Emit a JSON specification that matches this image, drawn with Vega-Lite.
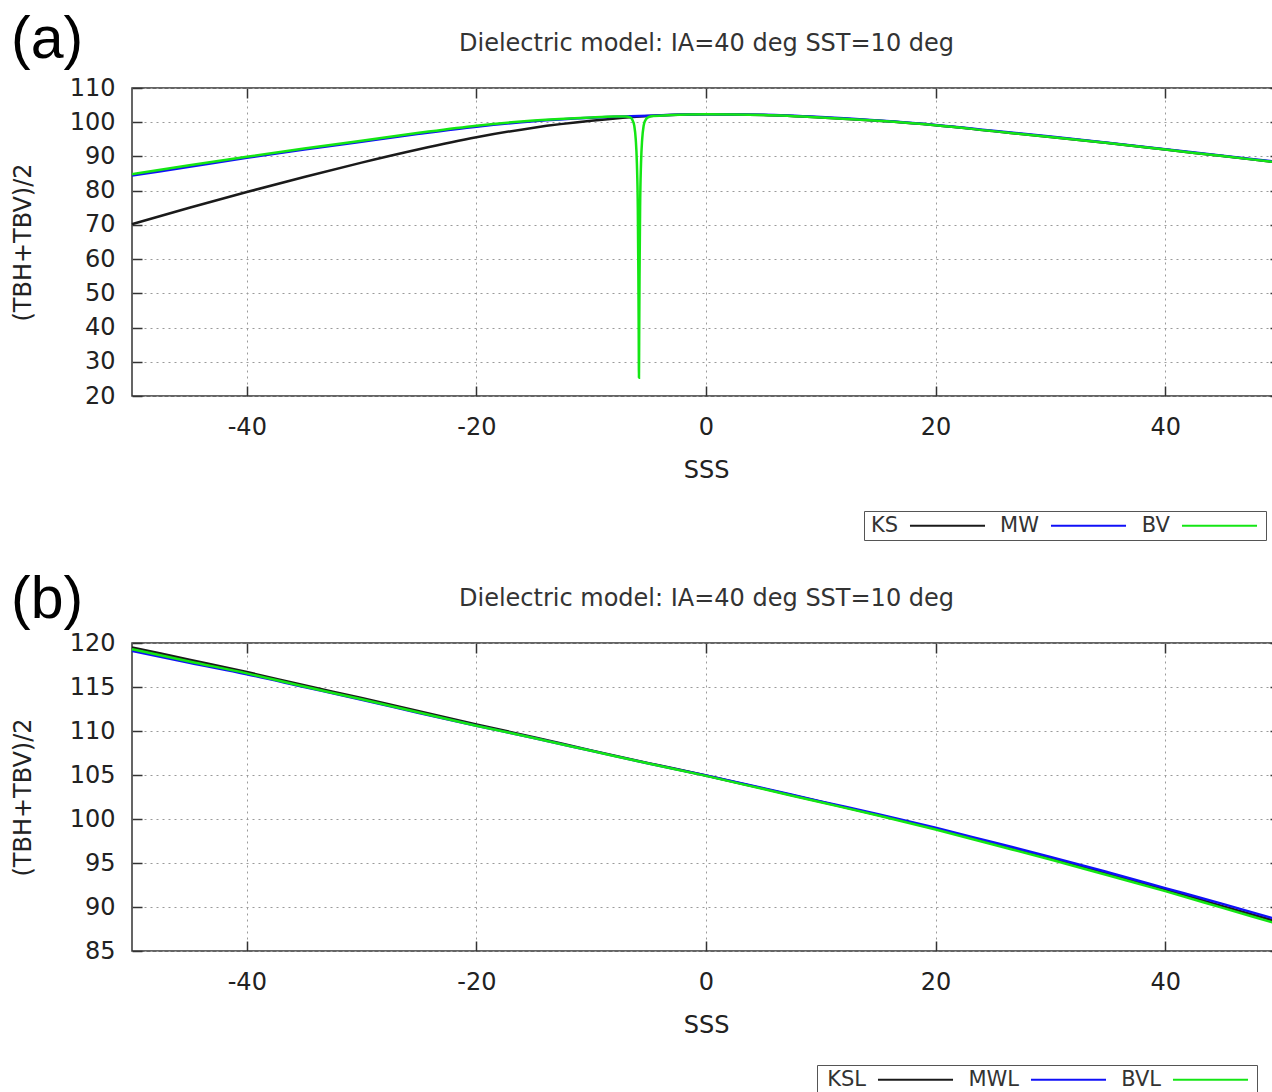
{
"$schema": "https://vega.github.io/schema/vega-lite/v6.json",
"background": "white",
"padding": {"left": 10, "top": 10, "right": 0, "bottom": 0},
"spacing": 247,
"bounds": "flush",
"datasets": {
"a": [
{"x":-50,"y":70.2,"m":"KS"},{"x":-45,"y":75.0,"m":"KS"},{"x":-40,"y":79.6,"m":"KS"},{"x":-35,"y":84.0,"m":"KS"},{"x":-30,"y":88.2,"m":"KS"},{"x":-25,"y":92.1,"m":"KS"},{"x":-20,"y":95.6,"m":"KS"},{"x":-15,"y":98.4,"m":"KS"},{"x":-10,"y":100.4,"m":"KS"},{"x":-5,"y":101.8,"m":"KS"},{"x":0,"y":102.3,"m":"KS"},{"x":5,"y":102.1,"m":"KS"},{"x":10,"y":101.4,"m":"KS"},{"x":15,"y":100.4,"m":"KS"},{"x":20,"y":99.1,"m":"KS"},{"x":25,"y":97.4,"m":"KS"},{"x":30,"y":95.7,"m":"KS"},{"x":35,"y":93.9,"m":"KS"},{"x":40,"y":92.0,"m":"KS"},{"x":45,"y":90.1,"m":"KS"},{"x":50,"y":88.2,"m":"KS"},
{"x":-50,"y":84.4,"m":"MW"},{"x":-45,"y":87.0,"m":"MW"},{"x":-40,"y":89.6,"m":"MW"},{"x":-35,"y":92.0,"m":"MW"},{"x":-30,"y":94.3,"m":"MW"},{"x":-25,"y":96.6,"m":"MW"},{"x":-20,"y":98.7,"m":"MW"},{"x":-15,"y":100.3,"m":"MW"},{"x":-10,"y":101.3,"m":"MW"},{"x":-5,"y":101.9,"m":"MW"},{"x":0,"y":102.3,"m":"MW"},{"x":5,"y":102.15,"m":"MW"},{"x":10,"y":101.5,"m":"MW"},{"x":15,"y":100.5,"m":"MW"},{"x":20,"y":99.2,"m":"MW"},{"x":25,"y":97.5,"m":"MW"},{"x":30,"y":95.8,"m":"MW"},{"x":35,"y":94.0,"m":"MW"},{"x":40,"y":92.1,"m":"MW"},{"x":45,"y":90.2,"m":"MW"},{"x":50,"y":88.3,"m":"MW"},
{"x":-50,"y":84.8,"m":"BV"},{"x":-45,"y":87.4,"m":"BV"},{"x":-40,"y":89.9,"m":"BV"},{"x":-35,"y":92.3,"m":"BV"},{"x":-30,"y":94.6,"m":"BV"},{"x":-25,"y":96.9,"m":"BV"},{"x":-20,"y":99.0,"m":"BV"},{"x":-15,"y":100.5,"m":"BV"},{"x":-10,"y":101.4,"m":"BV"},{"x":-8,"y":101.65,"m":"BV"},{"x":-7,"y":101.7,"m":"BV"},{"x":-6.6,"y":101.4,"m":"BV"},{"x":-6.4,"y":100.6,"m":"BV"},{"x":-6.25,"y":99.0,"m":"BV"},{"x":-6.12,"y":95.0,"m":"BV"},{"x":-6.02,"y":88.0,"m":"BV"},{"x":-5.94,"y":75.0,"m":"BV"},{"x":-5.89,"y":55.0,"m":"BV"},{"x":-5.86,"y":38.0,"m":"BV"},{"x":-5.84,"y":25.3,"m":"BV"},{"x":-5.82,"y":38.0,"m":"BV"},{"x":-5.79,"y":55.0,"m":"BV"},{"x":-5.74,"y":75.0,"m":"BV"},{"x":-5.66,"y":88.0,"m":"BV"},{"x":-5.56,"y":95.0,"m":"BV"},{"x":-5.43,"y":99.0,"m":"BV"},{"x":-5.28,"y":100.6,"m":"BV"},{"x":-5.05,"y":101.4,"m":"BV"},{"x":-4.6,"y":101.8,"m":"BV"},{"x":-3,"y":102.1,"m":"BV"},{"x":0,"y":102.3,"m":"BV"},{"x":5,"y":102.1,"m":"BV"},{"x":10,"y":101.4,"m":"BV"},{"x":15,"y":100.4,"m":"BV"},{"x":20,"y":99.1,"m":"BV"},{"x":25,"y":97.4,"m":"BV"},{"x":30,"y":95.7,"m":"BV"},{"x":35,"y":93.9,"m":"BV"},{"x":40,"y":92.0,"m":"BV"},{"x":45,"y":90.1,"m":"BV"},{"x":50,"y":88.2,"m":"BV"}
],
"b": [
{"x":-50,"y":119.5,"m":"KSL"},{"x":-45,"y":118.1,"m":"KSL"},{"x":-40,"y":116.7,"m":"KSL"},{"x":-35,"y":115.2,"m":"KSL"},{"x":-30,"y":113.75,"m":"KSL"},{"x":-25,"y":112.25,"m":"KSL"},{"x":-20,"y":110.75,"m":"KSL"},{"x":-15,"y":109.3,"m":"KSL"},{"x":-10,"y":107.8,"m":"KSL"},{"x":-5,"y":106.35,"m":"KSL"},{"x":0,"y":104.95,"m":"KSL"},{"x":5,"y":103.45,"m":"KSL"},{"x":10,"y":101.95,"m":"KSL"},{"x":15,"y":100.45,"m":"KSL"},{"x":20,"y":98.9,"m":"KSL"},{"x":25,"y":97.2,"m":"KSL"},{"x":30,"y":95.55,"m":"KSL"},{"x":35,"y":93.8,"m":"KSL"},{"x":40,"y":92.0,"m":"KSL"},{"x":45,"y":90.1,"m":"KSL"},{"x":50,"y":88.25,"m":"KSL"},
{"x":-50,"y":119.1,"m":"MWL"},{"x":-45,"y":117.75,"m":"MWL"},{"x":-40,"y":116.45,"m":"MWL"},{"x":-35,"y":115.0,"m":"MWL"},{"x":-30,"y":113.55,"m":"MWL"},{"x":-25,"y":112.05,"m":"MWL"},{"x":-20,"y":110.6,"m":"MWL"},{"x":-15,"y":109.2,"m":"MWL"},{"x":-10,"y":107.75,"m":"MWL"},{"x":-5,"y":106.3,"m":"MWL"},{"x":0,"y":104.95,"m":"MWL"},{"x":5,"y":103.5,"m":"MWL"},{"x":10,"y":102.0,"m":"MWL"},{"x":15,"y":100.55,"m":"MWL"},{"x":20,"y":99.0,"m":"MWL"},{"x":25,"y":97.35,"m":"MWL"},{"x":30,"y":95.7,"m":"MWL"},{"x":35,"y":93.95,"m":"MWL"},{"x":40,"y":92.15,"m":"MWL"},{"x":45,"y":90.35,"m":"MWL"},{"x":50,"y":88.5,"m":"MWL"},
{"x":-50,"y":119.3,"m":"BVL"},{"x":-45,"y":117.9,"m":"BVL"},{"x":-40,"y":116.55,"m":"BVL"},{"x":-35,"y":115.05,"m":"BVL"},{"x":-30,"y":113.6,"m":"BVL"},{"x":-25,"y":112.1,"m":"BVL"},{"x":-20,"y":110.6,"m":"BVL"},{"x":-15,"y":109.2,"m":"BVL"},{"x":-10,"y":107.75,"m":"BVL"},{"x":-5,"y":106.3,"m":"BVL"},{"x":0,"y":104.9,"m":"BVL"},{"x":5,"y":103.4,"m":"BVL"},{"x":10,"y":101.9,"m":"BVL"},{"x":15,"y":100.4,"m":"BVL"},{"x":20,"y":98.8,"m":"BVL"},{"x":25,"y":97.1,"m":"BVL"},{"x":30,"y":95.4,"m":"BVL"},{"x":35,"y":93.6,"m":"BVL"},{"x":40,"y":91.8,"m":"BVL"},{"x":45,"y":89.9,"m":"BVL"},{"x":50,"y":88.0,"m":"BVL"}
]
},
"vconcat": [
{
"width": 1148, "height": 308,
"data": {"name": "a"},
"title": {"text": "(a)", "anchor": "start", "frame": "group", "dx": -121, "offset": -86, "baseline": "alphabetic", "fontSize": 59, "font": "Liberation Sans", "fontWeight": "normal", "color": "#000000"},
"layer": [
{"mark": {"type": "line", "strokeWidth": 2.5, "interpolate": "monotone"},
 "encoding": {
  "x": {"field": "x", "type": "quantitative", "scale": {"domain": [-50, 50], "nice": false, "zero": false},
        "axis": {"orient": "bottom", "values": [-40, -20, 0, 20, 40], "grid": true, "labelExpr": "'' + datum.value", "labelPadding": 29, "title": "SSS", "titleX": 574, "titleY": 74, "titleBaseline": "middle", "titleAlign": "center"}},
  "y": {"field": "y", "type": "quantitative", "scale": {"domain": [20, 110], "nice": false, "zero": false},
        "axis": {"orient": "left", "values": [20, 30, 40, 50, 60, 70, 80, 90, 100, 110], "grid": true, "labelExpr": "'' + datum.value", "labelPadding": 27, "title": "(TBH+TBV)/2", "titleX": -109, "titleY": 154, "titleAngle": -90, "titleBaseline": "middle", "titleAlign": "center"}},
  "color": {"field": "m", "type": "nominal", "scale": {"domain": ["KS", "MW", "BV"], "range": ["#1a1a1a", "#1010f8", "#14e614"]},
        "legend": {"orient": "none", "legendX": 732, "legendY": 423, "direction": "horizontal", "title": " ", "titleOrient": "left", "titlePadding": 69, "titleFontSize": 21, "symbolType": "M-4,0H4", "symbolSize": 352, "symbolStrokeWidth": 2, "labelAlign": "right", "labelOffset": -60, "labelFont": "DejaVu Sans", "labelFontSize": 21, "labelColor": "#333333", "strokeColor": "#555555", "fillColor": "white", "padding": 4, "columnPadding": 10}}
 }},
{"mark": {"type": "point", "opacity": 0},
 "encoding": {
  "x": {"field": "x", "type": "quantitative", "scale": {"domain": [-50, 50], "nice": false, "zero": false},
        "axis": {"orient": "top", "values": [-40, -20, 0, 20, 40], "labels": false, "grid": false, "title": "Dielectric model: IA=40 deg SST=10 deg", "titleX": 574, "titleY": -45, "titleBaseline": "middle", "titleAlign": "center", "titleColor": "#333333"}},
  "y": {"field": "y", "type": "quantitative", "scale": {"domain": [20, 110], "nice": false, "zero": false},
        "axis": {"orient": "right", "values": [20, 30, 40, 50, 60, 70, 80, 90, 100, 110], "labels": false, "grid": false, "title": null}}
 }}
],
"resolve": {"axis": {"x": "independent", "y": "independent"}}
},
{
"width": 1148, "height": 308,
"data": {"name": "b"},
"title": {"text": "(b)", "anchor": "start", "frame": "group", "dx": -121, "offset": -91, "baseline": "alphabetic", "fontSize": 59, "font": "Liberation Sans", "fontWeight": "normal", "color": "#000000"},
"layer": [
{"mark": {"type": "line", "strokeWidth": 2.5, "interpolate": "monotone"},
 "encoding": {
  "x": {"field": "x", "type": "quantitative", "scale": {"domain": [-50, 50], "nice": false, "zero": false},
        "axis": {"orient": "bottom", "values": [-40, -20, 0, 20, 40], "grid": true, "labelExpr": "'' + datum.value", "labelPadding": 29, "title": "SSS", "titleX": 574, "titleY": 74, "titleBaseline": "middle", "titleAlign": "center"}},
  "y": {"field": "y", "type": "quantitative", "scale": {"domain": [85, 120], "nice": false, "zero": false},
        "axis": {"orient": "left", "values": [85, 90, 95, 100, 105, 110, 115, 120], "grid": true, "labelExpr": "'' + datum.value", "labelPadding": 27, "title": "(TBH+TBV)/2", "titleX": -109, "titleY": 154, "titleAngle": -90, "titleBaseline": "middle", "titleAlign": "center"}},
  "color": {"field": "m", "type": "nominal", "scale": {"domain": ["KSL", "MWL", "BVL"], "range": ["#1a1a1a", "#1010f8", "#14e614"]},
        "legend": {"orient": "none", "legendX": 685, "legendY": 422, "direction": "horizontal", "title": " ", "titleOrient": "left", "titlePadding": 84, "titleFontSize": 21, "symbolType": "M-4,0H4", "symbolSize": 352, "symbolStrokeWidth": 2, "labelAlign": "right", "labelOffset": -60, "labelFont": "DejaVu Sans", "labelFontSize": 21, "labelColor": "#333333", "strokeColor": "#555555", "fillColor": "white", "padding": 4, "columnPadding": 10}}
 }},
{"mark": {"type": "point", "opacity": 0},
 "encoding": {
  "x": {"field": "x", "type": "quantitative", "scale": {"domain": [-50, 50], "nice": false, "zero": false},
        "axis": {"orient": "top", "values": [-40, -20, 0, 20, 40], "labels": false, "grid": false, "title": "Dielectric model: IA=40 deg SST=10 deg", "titleX": 574, "titleY": -45, "titleBaseline": "middle", "titleAlign": "center", "titleColor": "#333333"}},
  "y": {"field": "y", "type": "quantitative", "scale": {"domain": [85, 120], "nice": false, "zero": false},
        "axis": {"orient": "right", "values": [85, 90, 95, 100, 105, 110, 115, 120], "labels": false, "grid": false, "title": null}}
 }}
],
"resolve": {"axis": {"x": "independent", "y": "independent"}}
}
],
"resolve": {"scale": {"color": "independent", "x": "independent", "y": "independent"}, "legend": {"color": "independent"}},
"config": {
 "view": {"stroke": "#333333", "strokeWidth": 1.5},
 "axis": {"domain": false, "ticks": true, "tickColor": "#333333", "tickWidth": 1.5, "tickSize": -10,
          "labelFont": "DejaVu Sans", "labelFontSize": 24, "labelColor": "#222222",
          "titleFont": "DejaVu Sans", "titleFontSize": 24, "titleFontWeight": "normal", "titleColor": "#222222",
          "gridColor": "#9a9a9a", "gridDash": [2, 4], "gridWidth": 1, "gridOpacity": 1}
}
}
